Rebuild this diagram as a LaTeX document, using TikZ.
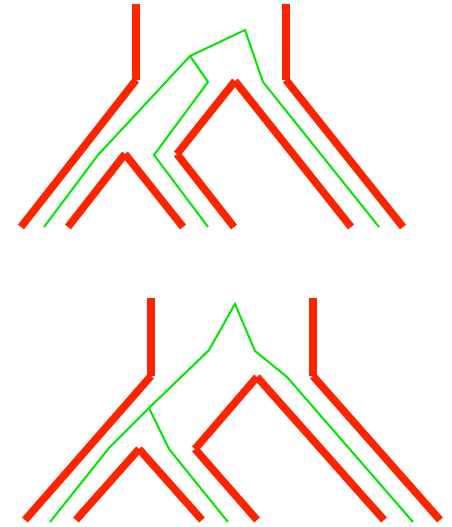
\documentclass[tikz,border=0pt]{standalone}
\usepackage{tikz}
\definecolor{hostred}{RGB}{255,36,0}
\definecolor{genegreen}{RGB}{0,232,0}

\begin{document}
\begin{tikzpicture}[x=1pt,y=-1pt,
host/.style={draw=hostred,line width=7.6pt,line cap=butt},
gene/.style={draw=genegreen,line width=2pt,line join=miter}]
\useasboundingbox (0,0) rectangle (451,527);
% upper tree
\coordinate (topA) at (136,4);
\coordinate (bendA) at (136,80);
\coordinate (footA) at (21,227);
\coordinate (apexB) at (125,154);
\coordinate (footB1) at (68,227);
\coordinate (footB2) at (183,227);
\coordinate (apexC) at (235,81);
\coordinate (cornerC) at (177,154);
\coordinate (footC1) at (234,227);
\coordinate (footC2) at (351,227);
\coordinate (topD) at (286,4);
\coordinate (bendD) at (286,80);
\coordinate (footD) at (403,227);
\draw[host] (topA)--(bendA);
\draw[host] (bendA)--(footA);
\draw[host] (apexB)--(footB1);
\draw[host] (apexB)--(footB2);
\draw[host] (apexC)--(cornerC);
\draw[host] (cornerC)--(footC1);
\draw[host] (apexC)--(footC2);
\draw[host] (topD)--(bendD);
\draw[host] (bendD)--(footD);
\coordinate (gA) at (44,227);
\coordinate (gB) at (98,155);
\coordinate (gC) at (190,56);
\coordinate (gRoot) at (245,30);
\coordinate (gD) at (263,82);
\coordinate (gE) at (379,227);
\coordinate (gF) at (208,82);
\coordinate (gG) at (154,155);
\coordinate (gH) at (208,227);
\draw[gene] (gA)--(gB)--(gC)--(gRoot)--(gD)--(gE);
\draw[gene] (gC)--(gF)--(gG)--(gH);
% lower tree
\coordinate (topP) at (151,298);
\coordinate (bendP) at (151,376);
\coordinate (footP) at (25,520);
\coordinate (apexQ) at (139,449);
\coordinate (footQ1) at (76,520);
\coordinate (footQ2) at (202,520);
\coordinate (apexR) at (257,377);
\coordinate (cornerR) at (195,449);
\coordinate (footR1) at (257,520);
\coordinate (footR2) at (384,520);
\coordinate (topS) at (313,298);
\coordinate (bendS) at (313,376);
\coordinate (footS) at (440,520);
\draw[host] (topP)--(bendP);
\draw[host] (bendP)--(footP);
\draw[host] (apexQ)--(footQ1);
\draw[host] (apexQ)--(footQ2);
\draw[host] (apexR)--(cornerR);
\draw[host] (cornerR)--(footR1);
\draw[host] (apexR)--(footR2);
\draw[host] (topS)--(bendS);
\draw[host] (bendS)--(footS);
\coordinate (hA) at (50,522);
\coordinate (hB) at (109,448);
\coordinate (hC) at (149,408);
\coordinate (hD) at (209,350);
\coordinate (hRoot) at (235,304);
\coordinate (hE) at (255,351);
\coordinate (hF) at (287,377);
\coordinate (hG) at (413,522);
\coordinate (hH) at (169,449);
\coordinate (hI) at (228,522);
\draw[gene] (hA)--(hB)--(hC)--(hD)--(hRoot)--(hE)--(hF)--(hG);
\draw[gene] (hC)--(hH)--(hI);
\end{tikzpicture}
\end{document}
